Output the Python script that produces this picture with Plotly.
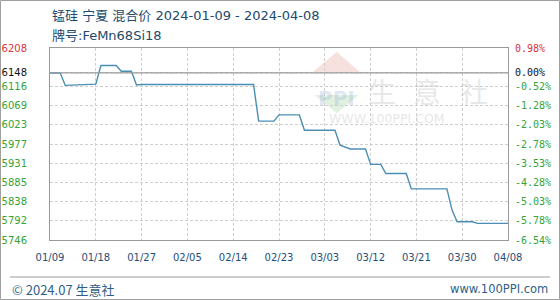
import plotly.graph_objects as go

# ---- data ----
dates = ["2024-01-09", "2024-01-11", "2024-01-12", "2024-01-18", "2024-01-19", "2024-01-22",
         "2024-01-23", "2024-01-25", "2024-01-26", "2024-01-27", "2024-02-18", "2024-02-19",
         "2024-02-22", "2024-02-23", "2024-02-27", "2024-02-28", "2024-03-05", "2024-03-06",
         "2024-03-08", "2024-03-11", "2024-03-12", "2024-03-14", "2024-03-15", "2024-03-19",
         "2024-03-20", "2024-03-27", "2024-03-28", "2024-03-29", "2024-04-01", "2024-04-02",
         "2024-04-08"]
prices = [6148, 6148, 6118, 6121, 6166, 6166,
          6152, 6152, 6119, 6120, 6120, 6032,
          6032, 6047, 6047, 6010, 6010, 5974,
          5965, 5965, 5928, 5928, 5906, 5906,
          5869, 5869, 5818, 5790, 5790, 5786,
          5786]

base_value = 6148
y_ticks = [6208, 6148, 6116, 6069, 6023, 5977, 5931, 5885, 5838, 5792, 5746]
pct_labels = ["0.98%", "0.00%", "-0.52%", "-1.28%", "-2.03%", "-2.78%", "-3.53%",
              "-4.28%", "-5.03%", "-5.78%", "-6.54%"]
x_ticks = ["2024-01-09", "2024-01-18", "2024-01-27", "2024-02-05", "2024-02-14", "2024-02-23",
           "2024-03-03", "2024-03-12", "2024-03-21", "2024-03-30", "2024-04-08"]
x_labels = ["01/09", "01/18", "01/27", "02/05", "02/14", "02/23", "03/03", "03/12", "03/21",
            "03/30", "04/08"]

title1 = "锰硅 宁夏 混合价 2024-01-09 - 2024-04-08"
title2 = "牌号:FeMn68Si18"
footer_left = "© 2024.07 生意社"
footer_right = "www.100PPI.com"
wm_chars = ["生", "意", "社"]
wm_url = "WWW.100PPI.COM"

RED = "#d9343a"
GREEN = "#36a336"
BLACK = "#111111"


def color_for(v):
    if v > base_value:
        return RED
    if v == base_value:
        return BLACK
    return GREEN


left_text = [f"<span style='color:{color_for(v)}'>{v}</span>" for v in y_ticks]
right_text = [f"<span style='color:{color_for(v)}'>{t}</span>" for v, t in zip(y_ticks, pct_labels)]

CJK = "Noto Sans CJK SC"
MIX = "DejaVu Sans, Noto Sans CJK SC"
LAB = "DejaVu Sans"

fig = go.Figure()
fig.add_trace(go.Scatter(x=dates, y=prices, mode="lines",
                         line=dict(color="#4a8fb3", width=1.4), hoverinfo="skip",
                         showlegend=False))
# invisible trace for right axis
fig.add_trace(go.Scatter(x=[dates[0]], y=[prices[0]], yaxis="y2", mode="lines",
                         line=dict(width=0), showlegend=False, hoverinfo="skip"))

fig.update_layout(
    width=560, height=300,
    margin=dict(l=50, r=52, t=48, b=60),
    paper_bgcolor="white", plot_bgcolor="white",
    xaxis=dict(type="date", range=[x_ticks[0], x_ticks[-1]], automargin=False,
               tickvals=x_ticks, ticktext=x_labels,
               tickfont=dict(family=LAB, size=10, color="#1f4e79"),
               showgrid=True, gridcolor="#cfcfcf", griddash="3px,2px", gridwidth=1,
               showline=True, linecolor="#9a9a9a", mirror=True,
               ticks="", ticklabelstandoff=8, zeroline=False),
    yaxis=dict(range=[y_ticks[-1], y_ticks[0]], tickvals=y_ticks, ticktext=left_text,
               automargin=False, tickfont=dict(family=LAB, size=10),
               showgrid=True, gridcolor="#cfcfcf", griddash="3px,2px", gridwidth=1,
               showline=True, linecolor="#9a9a9a", mirror=True,
               ticks="", ticklabelstandoff=20, zeroline=False),
    yaxis2=dict(range=[y_ticks[-1], y_ticks[0]], tickvals=y_ticks, ticktext=right_text,
                overlaying="y", side="right", showgrid=False, automargin=False,
                tickfont=dict(family="DejaVu Sans Mono", size=10),
                ticks="", ticklabelstandoff=6, zeroline=False, showline=False),
)

# base reference line
fig.add_shape(type="line", xref="paper", yref="y", x0=0, x1=1, y0=base_value, y1=base_value,
              line=dict(color="#9a9a9a", width=1.2))

# watermark logo
fig.add_shape(type="path", xref="paper", yref="paper",
              path="M 0.574 0.875 L 0.626 0.979 L 0.677 0.875 Z",
              fillcolor="rgba(232,170,160,0.35)", line=dict(width=0), layer="below")
fig.add_shape(type="path", xref="paper", yref="paper",
              path="M 0.578 0.755 L 0.626 0.66 L 0.674 0.755 Z",
              fillcolor="rgba(165,215,165,0.35)", line=dict(width=0), layer="below")
fig.add_annotation(text="<b>PPI</b>", xref="paper", yref="paper", x=0.626, y=0.815,
                   showarrow=False, font=dict(family=LAB, size=20, color="rgba(150,170,215,0.3)"))
for ch, px in zip(wm_chars, [398, 443, 490]):
    fig.add_annotation(text=ch, xref="paper", yref="paper", x=(px - 50) / 458, y=(240 - 69) / 192,
                       showarrow=False, font=dict(family=CJK, size=28, color="rgba(195,195,195,0.4)"))
fig.add_annotation(text=wm_url, xref="paper", yref="paper", x=(447 - 50) / 458, y=(240 - 109) / 192,
                   showarrow=False, font=dict(family=LAB, size=12.5, color="rgba(200,200,200,0.45)"))

# titles
fig.add_annotation(text=title1, xref="paper", yref="paper", x=0, y=(240 - 15) / 192,
                   xanchor="left", yanchor="middle", showarrow=False,
                   font=dict(family=MIX, size=13, color="#234a6d"))
fig.add_annotation(text=title2, xref="paper", yref="paper", x=0, y=(240 - 35) / 192,
                   xanchor="left", yanchor="middle", showarrow=False,
                   font=dict(family=MIX, size=13, color="#234a6d"))

# footer
fig.add_shape(type="line", xref="paper", yref="paper",
              x0=(10 - 50) / 458, x1=(550 - 50) / 458, y0=(240 - 277) / 192, y1=(240 - 277) / 192,
              line=dict(color="#9a9a9a", width=1))
fig.add_annotation(text=footer_left, xref="paper", yref="paper", x=(10 - 50) / 458, y=(240 - 289) / 192,
                   xanchor="left", yanchor="middle", showarrow=False,
                   font=dict(family=CJK, size=13, color="#2f5f8a"))
fig.add_annotation(text=footer_right, xref="paper", yref="paper", x=(550 - 50) / 458, y=(240 - 289) / 192,
                   xanchor="right", yanchor="middle", showarrow=False,
                   font=dict(family=LAB, size=11.5, color="#2f5f8a"))
# outer border
fig.add_shape(type="rect", xref="paper", yref="paper",
              x0=(0.5 - 50) / 458, x1=(559.5 - 50) / 458, y0=(240 - 299.5) / 192, y1=(240 - 0.5) / 192,
              line=dict(color="#a0a0a0", width=1))

fig.write_html("out.html")
